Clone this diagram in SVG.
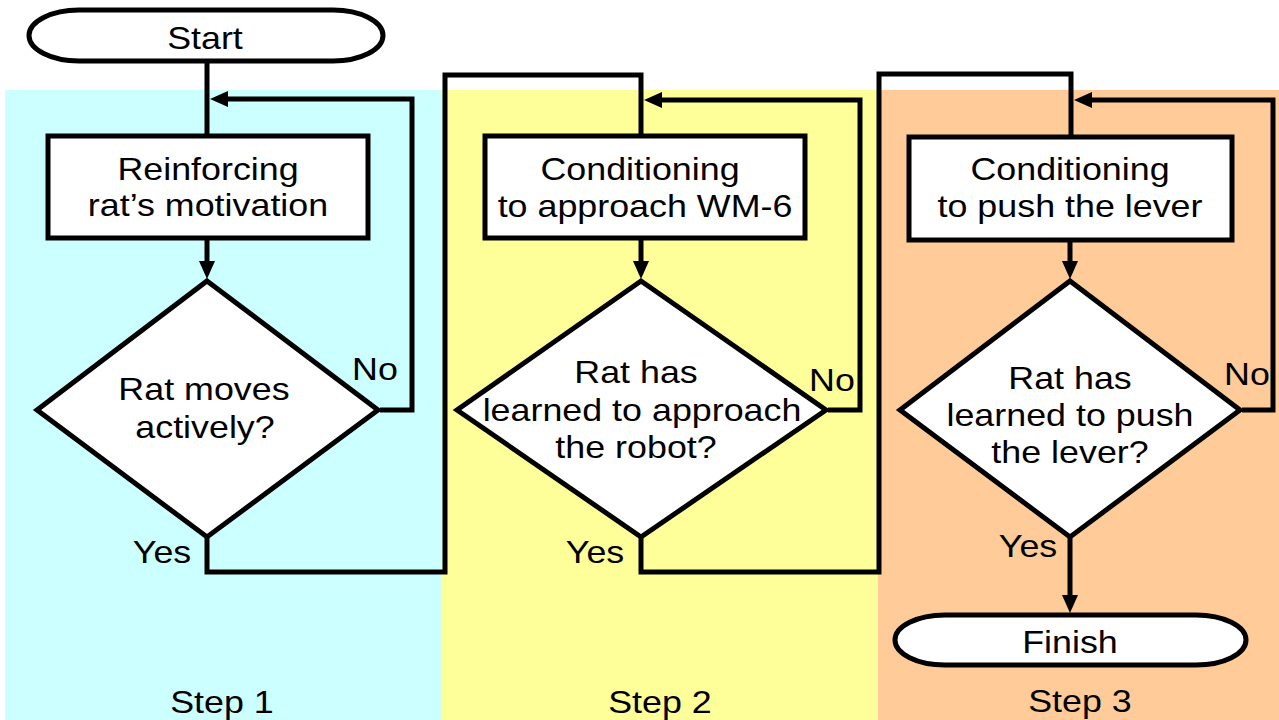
<svg xmlns="http://www.w3.org/2000/svg" width="1279" height="720" viewBox="0 0 1279 720">
  <style>
    .shape { fill: #ffffff; stroke: #000000; stroke-width: 5; stroke-linejoin: miter; }
    .wire { fill: none; stroke: #000000; stroke-width: 5; stroke-linejoin: miter; }
    .t { font-family: "Liberation Sans", Arial, sans-serif; font-size: 32px; fill: #000000; text-anchor: middle; }
  </style>
  <defs>
    <marker id="ah" markerUnits="userSpaceOnUse" markerWidth="18" markerHeight="16" viewBox="0 0 18 16" refX="10" refY="8" orient="auto">
      <path d="M0,0 L18,8 L0,16 z" fill="#000000"/>
    </marker>
  </defs>

  <rect x="0" y="0" width="1279" height="720" fill="#ffffff"/>

  <!-- step panels -->
  <g id="panels">
    <rect x="5" y="90" width="436" height="630" fill="#ccffff"/>
    <rect x="441" y="90" width="437" height="630" fill="#ffff99"/>
    <rect x="878" y="90" width="401" height="630" fill="#ffcc99"/>
  </g>

  <!-- connectors -->
  <g id="connectors">
    <path class="wire" d="M207,61 V136"/>
    <path class="wire" d="M380,410 H412 V99 H218" marker-end="url(#ah)"/>
    <path class="wire" d="M207,238 V271" marker-end="url(#ah)"/>
    <path class="wire" d="M207,538 V572 H445 V75 H641 V136"/>
    <path class="wire" d="M828,410 H860 V100 H652" marker-end="url(#ah)"/>
    <path class="wire" d="M641,238 V271" marker-end="url(#ah)"/>
    <path class="wire" d="M641,538 V572 H879 V74 H1071 V136"/>
    <path class="wire" d="M1242,410 H1273 V100 H1082" marker-end="url(#ah)"/>
    <path class="wire" d="M1070,240 V271" marker-end="url(#ah)"/>
    <path class="wire" d="M1070,538 V605" marker-end="url(#ah)"/>
  </g>

  <g id="start">
    <rect class="shape" x="29" y="10" width="354" height="51" rx="50" ry="25.5"/>
    <text class="t" transform="translate(205,49) scale(1.12,1)">Start</text>
  </g>

  <g id="step1-box">
    <rect class="shape" x="48" y="136" width="320" height="102"/>
    <text class="t" transform="translate(208,180) scale(1.12,1)">Reinforcing</text>
    <text class="t" transform="translate(208,216) scale(1.12,1)">rat’s motivation</text>
  </g>

  <g id="step1-decision">
    <polygon class="shape" points="207,281 378,410 207,537 37,410"/>
    <text class="t" transform="translate(204,400) scale(1.12,1)">Rat moves</text>
    <text class="t" transform="translate(205,438) scale(1.12,1)">actively?</text>
  </g>

  <g id="step2-box">
    <rect class="shape" x="485" y="136" width="320" height="102"/>
    <text class="t" transform="translate(640,180) scale(1.12,1)">Conditioning</text>
    <text class="t" transform="translate(645,217) scale(1.12,1)">to approach WM-6</text>
  </g>

  <g id="step2-decision">
    <polygon class="shape" points="641,281 826,410 641,537 457,410"/>
    <text class="t" transform="translate(636,383) scale(1.12,1)">Rat has</text>
    <text class="t" transform="translate(642,421) scale(1.12,1)">learned to approach</text>
    <text class="t" transform="translate(636,458) scale(1.12,1)">the robot?</text>
  </g>

  <g id="step3-box">
    <rect class="shape" x="909" y="137" width="323" height="103"/>
    <text class="t" transform="translate(1070,180) scale(1.12,1)">Conditioning</text>
    <text class="t" transform="translate(1070,217) scale(1.12,1)">to push the lever</text>
  </g>

  <g id="step3-decision">
    <polygon class="shape" points="1070,281 1240,410 1070,537 900,410"/>
    <text class="t" transform="translate(1070,389) scale(1.12,1)">Rat has</text>
    <text class="t" transform="translate(1070,426) scale(1.12,1)">learned to push</text>
    <text class="t" transform="translate(1070,463) scale(1.12,1)">the lever?</text>
  </g>

  <g id="finish">
    <rect class="shape" x="895" y="615" width="351" height="50" rx="50" ry="25"/>
    <text class="t" transform="translate(1070,653) scale(1.12,1)">Finish</text>
  </g>

  <!-- branch labels -->
  <g id="labels">
    <text class="t" transform="translate(375,380) scale(1.12,1)">No</text>
    <text class="t" transform="translate(162,563) scale(1.12,1)">Yes</text>
    <text class="t" transform="translate(832,391) scale(1.12,1)">No</text>
    <text class="t" transform="translate(595,563) scale(1.12,1)">Yes</text>
    <text class="t" transform="translate(1247,385) scale(1.12,1)">No</text>
    <text class="t" transform="translate(1028,557) scale(1.12,1)">Yes</text>
  </g>

  <g id="step-titles">
    <text class="t" transform="translate(222,713) scale(1.12,1)">Step 1</text>
    <text class="t" transform="translate(660,713) scale(1.12,1)">Step 2</text>
    <text class="t" transform="translate(1080,712) scale(1.12,1)">Step 3</text>
  </g>
</svg>
